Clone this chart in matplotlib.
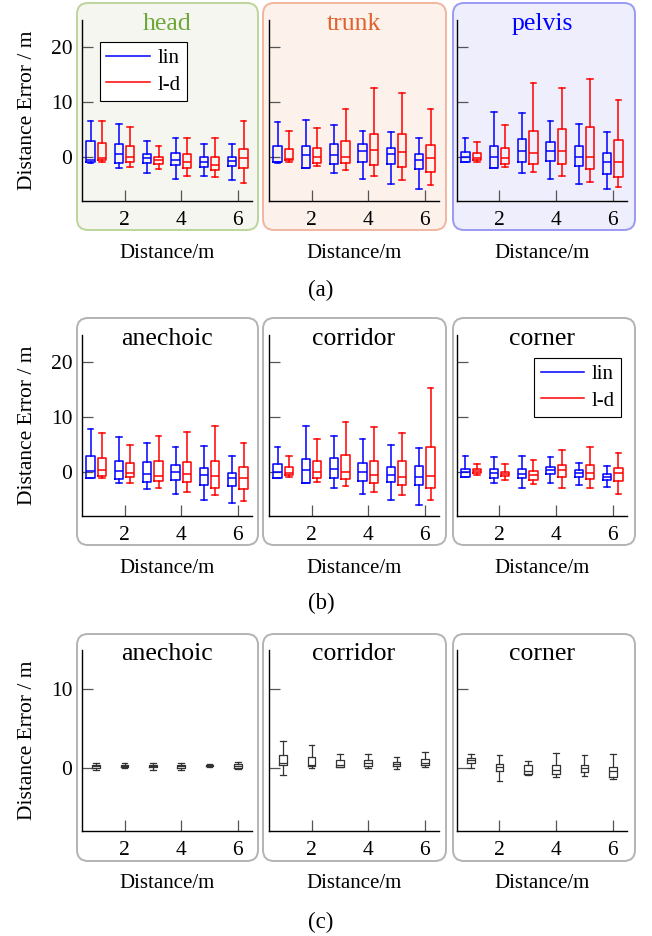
import matplotlib
matplotlib.use('Agg')
import matplotlib.pyplot as plt
from matplotlib.patches import FancyBboxPatch
from matplotlib.lines import Line2D

plt.rcParams['font.family'] = 'serif'
plt.rcParams['font.serif'] = ['Liberation Serif', 'DejaVu Serif']

distances = [1, 2, 3, 4, 5, 6]

# each row: (whisker low, q1, median, q3, whisker high), one per distance
head_lin = [(-1.0, -0.9, -0.6, 2.9, 6.6), (-2.0, -1.1, 0.65, 2.35, 6.0), (-2.9, -1.0, -0.1, 0.65, 2.95),
            (-3.9, -1.45, -0.5, 0.7, 3.4), (-3.4, -1.75, -0.95, -0.05, 2.35), (-4.1, -1.7, -0.7, -0.05, 2.4)]
head_ld = [(-0.85, -0.5, -0.1, 2.5, 6.6), (-1.8, -0.9, 0.1, 2.0, 5.5), (-2.2, -1.3, -0.6, 0.1, 2.1),
           (-3.5, -1.9, -0.85, 0.6, 3.5), (-3.55, -2.3, -1.45, 0.1, 3.5), (-4.7, -2.0, -0.1, 1.55, 6.6)]
trunk_lin = [(-1.0, -0.95, -0.8, 2.05, 6.4), (-1.95, -1.95, 0.35, 2.05, 6.8), (-2.9, -1.2, 0.4, 2.45, 5.8),
             (-3.9, -0.9, 1.15, 2.45, 4.75), (-4.95, -1.3, 0.5, 1.75, 4.5), (-5.8, -2.2, -0.5, 0.5, 3.5)]
trunk_ld = [(-0.9, -0.6, -0.3, 1.55, 4.8), (-1.7, -1.0, 0.05, 1.6, 5.35), (-2.3, -1.15, -0.05, 2.9, 8.7),
            (-3.4, -1.45, 1.3, 4.3, 12.65), (-4.1, -1.75, 0.9, 4.3, 11.6), (-5.0, -2.65, -0.1, 2.3, 8.8)]
pelvis_lin = [(-0.9, -0.9, 0.0, 1.0, 3.55), (-1.95, -1.95, 0.0, 2.1, 8.2), (-2.9, -0.95, 1.2, 3.25, 8.0),
              (-3.9, -0.67, 1.08, 2.7, 6.6), (-4.95, -1.7, 0.0, 2.1, 6.1), (-5.8, -3.1, -0.97, 0.7, 4.6)]
pelvis_ld = [(-0.85, -0.55, -0.2, 0.8, 2.75), (-1.8, -1.3, -0.25, 1.7, 5.9), (-2.65, -1.2, 0.7, 4.8, 13.55),
             (-3.5, -1.27, 1.08, 5.1, 12.6), (-4.5, -2.2, 0.05, 5.5, 14.2), (-5.4, -3.55, -0.9, 3.1, 10.5)]

anechoic_lin = [(-1.0, -1.0, 0.25, 3.0, 7.9), (-1.95, -1.2, 0.2, 1.95, 6.4), (-3.0, -1.75, -0.3, 1.8, 5.4),
                (-4.0, -1.45, 0.0, 1.3, 4.5), (-5.0, -2.35, -0.55, 0.8, 4.8), (-5.6, -2.55, -1.15, -0.25, 2.9)]
anechoic_ld = [(-1.0, -0.65, 0.35, 2.6, 7.15), (-1.9, -0.9, -0.2, 1.6, 4.9), (-2.85, -1.65, -0.7, 2.0, 6.65),
               (-3.6, -1.8, -0.35, 1.9, 7.4), (-4.2, -2.85, -0.7, 1.95, 8.4), (-5.35, -3.0, -1.0, 0.95, 5.4)]
corridor_lin = [(-1.0, -1.0, 0.0, 1.4, 4.55), (-2.05, -2.05, 0.4, 2.35, 8.4), (-2.95, -1.0, 0.6, 2.55, 6.6),
                (-4.0, -1.65, 0.0, 1.6, 5.95), (-5.0, -1.8, -0.6, 1.0, 5.0), (-6.05, -2.4, -0.8, 1.15, 4.35)]
corridor_ld = [(-0.9, -0.6, -0.2, 1.0, 3.0), (-1.8, -1.1, 0.05, 2.05, 6.05), (-2.5, -1.3, 0.1, 3.1, 9.2),
               (-3.6, -2.0, -0.5, 2.1, 8.25), (-4.25, -2.35, -0.9, 2.05, 7.2), (-5.0, -2.9, -0.65, 4.65, 15.4)]
corner_lin = [(-0.9, -0.9, 0.0, 0.65, 2.85), (-1.95, -1.05, -0.25, 0.5, 2.7), (-2.95, -1.1, -0.3, 0.55, 2.85),
              (-2.05, -0.4, 0.35, 0.95, 2.7), (-2.35, -0.8, -0.2, 0.35, 1.65), (-2.8, -1.4, -0.85, -0.35, 1.1)]
corner_ld = [(-0.55, -0.2, 0.2, 0.55, 1.45), (-1.5, -0.75, -0.3, 0.05, 1.45), (-2.25, -1.35, -0.6, 0.15, 2.3),
             (-2.9, -0.85, 0.35, 1.3, 4.05), (-2.9, -1.2, -0.15, 1.3, 4.55), (-3.9, -1.65, -0.2, 0.8, 3.55)]

c_anechoic = [(-0.2, -0.05, 0.25, 0.4, 0.65), (0.05, 0.15, 0.3, 0.4, 0.6), (-0.2, 0.1, 0.3, 0.4, 0.65),
              (-0.2, 0.0, 0.25, 0.4, 0.65), (0.1, 0.25, 0.35, 0.45, 0.55), (-0.15, 0.0, 0.3, 0.5, 0.75)]
c_corridor = [(-0.85, 0.4, 0.6, 1.6, 3.5), (-0.05, 0.2, 0.4, 1.45, 2.95), (0.1, 0.15, 0.4, 1.05, 1.8),
              (0.0, 0.3, 0.65, 1.05, 1.8), (-0.15, 0.25, 0.55, 0.8, 1.45), (0.1, 0.4, 0.65, 1.2, 2.1)]
c_corner = [(0.0, 0.7, 1.0, 1.3, 1.8), (-1.7, -0.4, 0.1, 0.5, 1.65), (-0.9, -0.75, -0.4, 0.4, 0.95),
            (-1.1, -0.8, -0.2, 0.4, 1.85), (-1.05, -0.5, 0.05, 0.4, 1.65), (-1.4, -1.1, -0.35, 0.15, 1.75)]

titles_a = ['head', 'trunk', 'pelvis']
titles_env = ['anechoic', 'corridor', 'corner']
series_labels = ['lin', 'l-d']

LIN = '#0000ff'
LD = '#ff0000'

W, H = 652, 936
fig = plt.figure(figsize=(W / 100, H / 100), dpi=100)

col_x = [82, 269, 457]
frame_x = [(77, 258), (263, 446), (453, 635)]
row_y = [(20, 201), (335, 516), (650, 831)]
frame_y = [(3, 230), (318, 545), (634, 861)]


def stats(rows):
    return [dict(whislo=r[0], q1=r[1], med=r[2], q3=r[3], whishi=r[4], fliers=[]) for r in rows]


def boxes(ax, rows, offset, color, width=0.3, lw=1.1):
    props = dict(color=color, lw=lw)
    ax.bxp(stats(rows), positions=[d + offset for d in distances], widths=width,
           capwidths=width * 0.7, showfliers=False, manage_ticks=False,
           boxprops=props, whiskerprops=props, capprops=props, medianprops=props)


def frame(i, j, face, edge):
    x0, x1 = frame_x[j]
    y0, y1 = frame_y[i]
    p = FancyBboxPatch((x0 / 100, (H - y1) / 100), (x1 - x0) / 100, (y1 - y0) / 100,
                       boxstyle='round,pad=0,rounding_size=0.11', transform=fig.dpi_scale_trans,
                       facecolor=face, edgecolor=edge, lw=1.4, zorder=-5)
    fig.add_artist(p)


def legend(ax, loc, anchor):
    handles = [Line2D([], [], color=LIN, lw=1.1), Line2D([], [], color=LD, lw=1.1)]
    leg = ax.legend(handles, series_labels, loc=loc, bbox_to_anchor=anchor,
                    fancybox=False, edgecolor='black', framealpha=1, fontsize=15,
                    handlelength=2.1, handletextpad=0.35, borderpad=0.3, labelspacing=0.35,
                    borderaxespad=0)
    leg.get_frame().set_linewidth(0.8)


def make_ax(i, j, ylim, yticks):
    y0, y1 = row_y[i]
    ax = fig.add_axes([col_x[j] / W, 1 - y1 / H, 170 / W, (y1 - y0) / H])
    ax.set_facecolor('none')
    ax.set_xlim(0.5, 6.5)
    ax.set_ylim(*ylim)
    ax.set_xticks([2, 4, 6])
    ax.set_yticks(yticks)
    for s in ['top', 'right']:
        ax.spines[s].set_visible(False)
    for s in ['left', 'bottom']:
        ax.spines[s].set_linewidth(1.0)
    ax.tick_params(direction='in', length=8, width=0.9, color='#555555', labelsize=15.5, pad=7)
    if j == 0:
        ax.set_ylabel('Distance Error / m', fontsize=15.5, labelpad=10)
    else:
        ax.set_yticklabels([])
    ax.set_xlabel('Distance/m', fontsize=15, labelpad=10)
    return ax


# (a) body parts
faces_a = ['#f4f6ef', '#fcf1eb', '#eeeefc']
edges_a = ['#bcd59c', '#f1b69f', '#9a9af5']
title_cols = ['#6fa83a', '#e0622d', '#0000ff']
data_a = [(head_lin, head_ld), (trunk_lin, trunk_ld), (pelvis_lin, pelvis_ld)]
for j in range(3):
    frame(0, j, faces_a[j], edges_a[j])
    ax = make_ax(0, j, (-8, 25), [0, 10, 20])
    boxes(ax, data_a[j][0], -0.2, LIN)
    boxes(ax, data_a[j][1], 0.2, LD)
    ax.text(0.5, 0.98, titles_a[j], transform=ax.transAxes, ha='center', va='center',
            fontsize=18.5, color=title_cols[j])
    if j == 0:
        legend(ax, 'upper left', (0.107, 0.878))

# (b) environments, two methods
data_b = [(anechoic_lin, anechoic_ld), (corridor_lin, corridor_ld), (corner_lin, corner_ld)]
for j in range(3):
    frame(1, j, 'white', '#b3b3b3')
    ax = make_ax(1, j, (-8, 25), [0, 10, 20])
    boxes(ax, data_b[j][0], -0.2, LIN)
    boxes(ax, data_b[j][1], 0.2, LD)
    ax.text(0.5, 0.98, titles_env[j], transform=ax.transAxes, ha='center', va='center',
            fontsize=18.5, color='black')
    if j == 2:
        legend(ax, 'upper right', (0.965, 0.873))

# (c) environments, single
data_c = [c_anechoic, c_corridor, c_corner]
for j in range(3):
    frame(2, j, 'white', '#b3b3b3')
    ax = make_ax(2, j, (-8, 15), [0, 10])
    boxes(ax, data_c[j], 0.0, '#333333', width=0.27, lw=0.9)
    ax.text(0.5, 0.98, titles_env[j], transform=ax.transAxes, ha='center', va='center',
            fontsize=18.5, color='black')

for lab, y in [('(a)', 290), ('(b)', 603), ('(c)', 922)]:
    fig.text(321 / W, 1 - y / H, lab, ha='center', va='center', fontsize=16.5)

fig.savefig('out.png', dpi=100)
